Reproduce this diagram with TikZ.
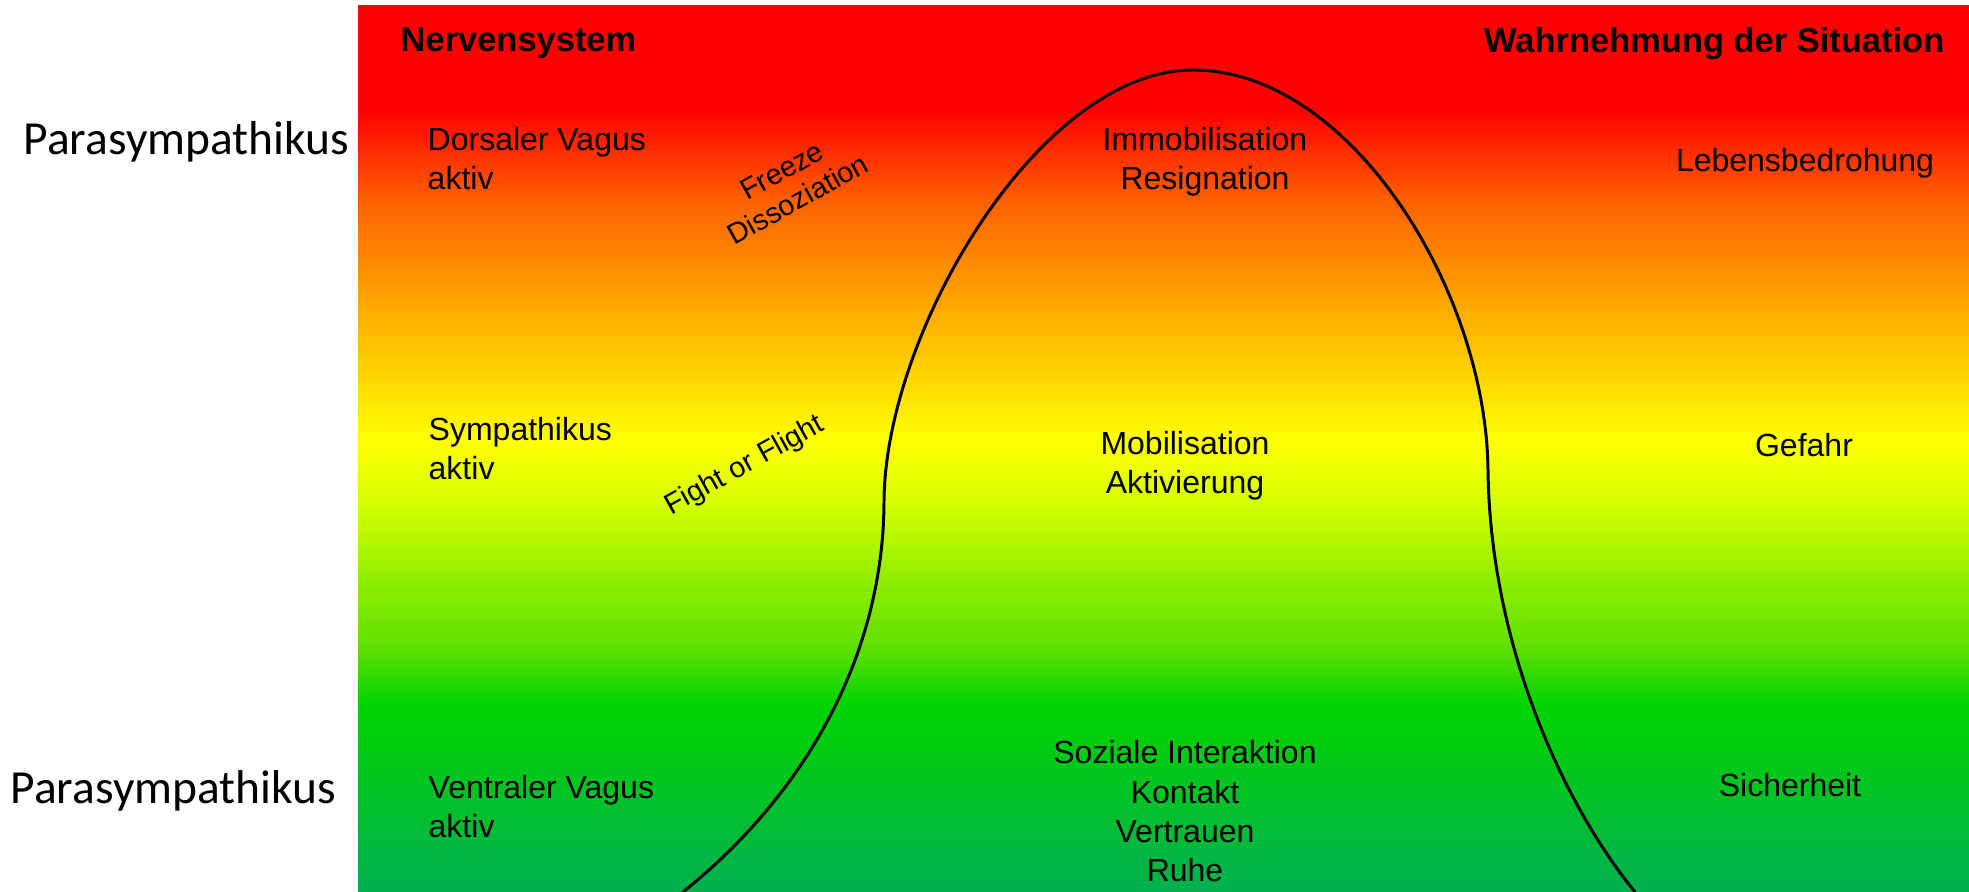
\documentclass[tikz,border=0pt]{standalone}
\usepackage{fontspec}
\setmainfont{Liberation Sans}
\newfontfamily\calibri{Carlito}
\definecolor{ampelA}{HTML}{FF0000}
\definecolor{ampelB}{HTML}{FF6000}
\definecolor{ampelC}{HTML}{FFA500}
\definecolor{ampelD}{HTML}{FFD800}
\definecolor{ampelE}{HTML}{FFFF00}
\definecolor{ampelF}{HTML}{D8FF00}
\definecolor{ampelG}{HTML}{90EE00}
\definecolor{ampelH}{HTML}{5CE000}
\definecolor{ampelI}{HTML}{00D400}
\definecolor{ampelJ}{HTML}{00B050}
% Verlauf von unten (gruen) nach oben (rot)
\pgfdeclareverticalshading{ampel}{100bp}{color(0bp)=(ampelJ); color(25bp)=(ampelJ);
  color(35.55bp)=(ampelI); color(38.65bp)=(ampelH); color(42.6bp)=(ampelG);
  color(47.1bp)=(ampelF); color(50.5bp)=(ampelE); color(53.9bp)=(ampelD);
  color(58.4bp)=(ampelC); color(64.05bp)=(ampelB); color(69.15bp)=(ampelA);
  color(100bp)=(ampelA)}
\tikzset{
  lbl/.style={font=\fontsize{9.1}{11.2}\selectfont, inner sep=0pt, align=left},
  mid/.style={lbl, align=center},
  kopf/.style={font=\fontsize{9.8}{12}\selectfont\bfseries, inner sep=0pt},
  seite/.style={font=\calibri\fontsize{13.5}{15}\selectfont, inner sep=0pt},
  schraeg/.style={font=\fontsize{8.2}{9.4}\selectfont, inner sep=0pt, align=center, rotate=29}
}
\begin{document}
\begin{tikzpicture}[x=0.01cm, y=-0.01cm, >=stealth, line join=round, line cap=round]
	\def\xmin{358} \def\xmax{1969}
	\def\ymin{6} \def\ymax{892} % Farbfeld
	\useasboundingbox (0,0) rectangle (1969,892);
	\shade[shading=ampel] (\xmin,\ymin) rectangle (\xmax,\ymax);
	% Glockenkurve
	\draw[line width=0.85pt] (683,\ymax) .. controls (810,790) and (884,650) .. (884,500)
		.. controls (886,330) and (1040,70) .. (1193,70)
		.. controls (1350,70) and (1486,290) .. (1488,470)
		.. controls (1490,640) and (1560,800) .. (1635,\ymax);
	\node[kopf, anchor=base west] (nerv) at (400,52) {Nervensystem};
	\node[kopf, anchor=base east] (wahr) at (1945,53) {Wahrnehmung der Situation};
	\node[seite, anchor=base west] (paraoben) at (23,155) {Parasympathikus};
	\node[seite, anchor=base west] (paraunten) at (10,804) {Parasympathikus};
	% Grundlinie der letzten Zeile
	\node[lbl, anchor=base west] (dorsal) at (427,190) {Dorsaler Vagus\\aktiv};
	\node[lbl, anchor=base west] (symp) at (428,480) {Sympathikus\\aktiv};
	\node[lbl, anchor=base west] (ventral) at (428,838) {Ventraler Vagus\\aktiv};
	\node[mid, anchor=base] (immo) at (1205,190) {Immobilisation\\Resignation};
	\node[mid, anchor=base] (mobi) at (1185,494) {Mobilisation\\Aktivierung};
	\node[mid, anchor=base] (sozial) at (1185,882) {Soziale Interaktion\\Kontakt\\Vertrauen\\Ruhe};
	\node[lbl, anchor=base] (leben) at (1805,172) {Lebensbedrohung};
	\node[lbl, anchor=base] (gefahr) at (1804,457) {Gefahr};
	\node[lbl, anchor=base] (sicher) at (1790,797) {Sicherheit};
	\node[schraeg] (freeze) at (790,185) {Freeze\\Dissoziation};
	\node[schraeg] (fight) at (745,466) {Fight or Flight};
\end{tikzpicture}
\end{document}
